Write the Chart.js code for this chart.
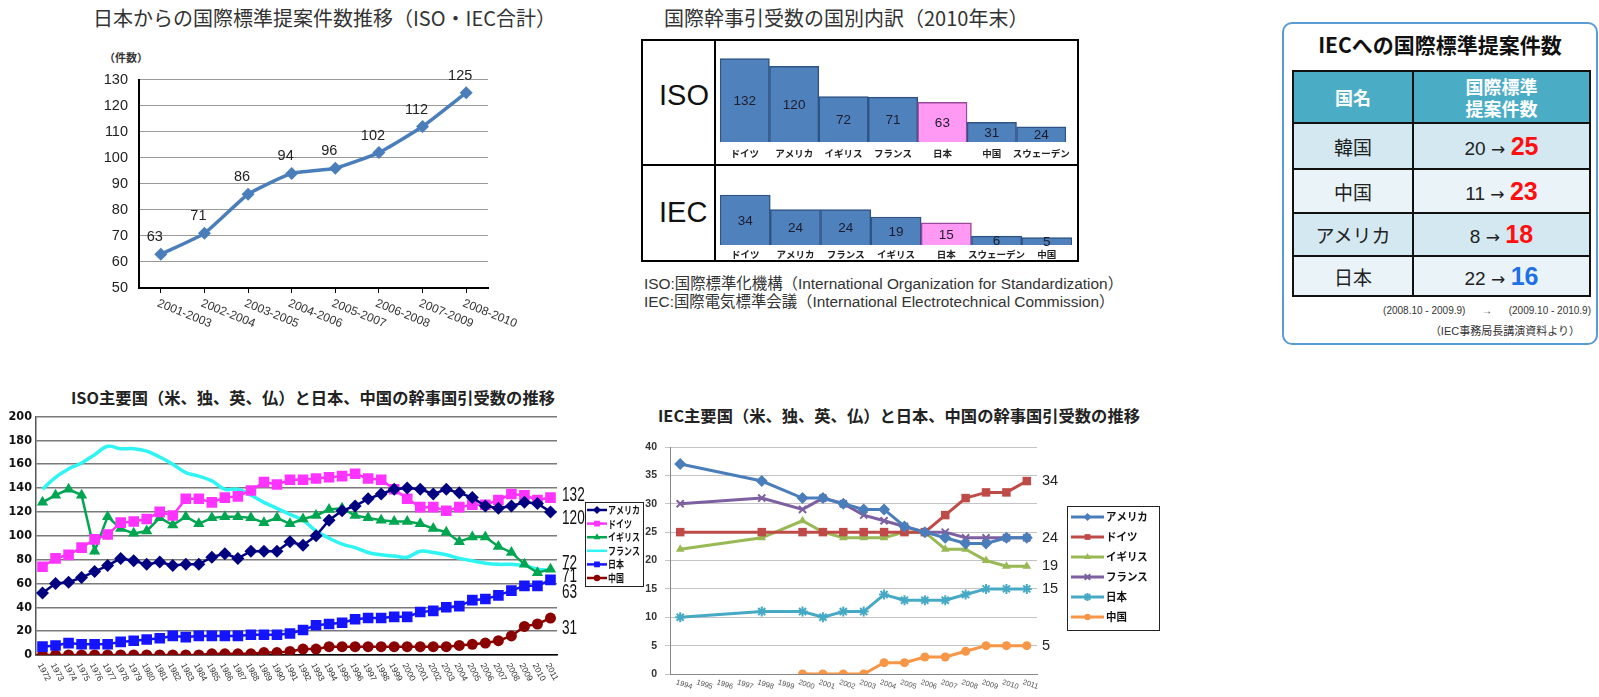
<!DOCTYPE html>
<html>
<head>
<meta charset="utf-8">
<script src="https://cdn.jsdelivr.net/npm/chart.js@4.4.0/dist/chart.umd.min.js"></script>
<style>
  body { margin: 0; background: #fff; width: 1599px; height: 697px; overflow: hidden; position: relative;
         font-family: "Noto Sans CJK JP", "Noto Sans", sans-serif; color: #222; }
  canvas, .abs { position: absolute; }
  .ttl { white-space: nowrap; }
  #breakdownFrame { left: 641px; top: 39px; width: 438px; height: 223px; border: 2px solid #000; box-sizing: border-box; }
  #vLine { left: 714px; top: 39px; width: 2px; height: 223px; background: #000; }
  #hLine { left: 641px; top: 164px; width: 438px; height: 2px; background: #000; }
  .org { font-family: "Liberation Sans", sans-serif; font-size: 29px; color: #111; }
  .cap { font-family: "Liberation Sans", "Noto Sans CJK JP", sans-serif; font-size: 15.4px; color: #333; white-space: nowrap; }
  #tableBox { left: 1282px; top: 22px; width: 316px; height: 323px; border: 2px solid #5b9bd5; border-radius: 10px; box-sizing: border-box; }
  #propTable { left: 1292px; top: 70px; width: 299px; border-collapse: collapse; }
  #propTable td, #propTable th { border: 2px solid #111; text-align: center; padding: 0; }
  #propTable th { background: #4bacc6; color: #fff; font-weight: bold; font-size: 18px; line-height: 22px; }
  #propTable td { font-size: 19px; }
  .foot { font-family: "Liberation Sans", "Noto Sans CJK JP", sans-serif; color: #333; white-space: nowrap; }
</style>
</head>
<body>

<div class="abs ttl" style="left:93px; top:3px; font-size:20px; color:#333;">日本からの国際標準提案件数推移（ISO・IEC合計）</div>
<div class="abs ttl" style="left:104px; top:49px; font-size:11px; font-weight:bold; color:#333;">（件数）</div>
<canvas id="proposalChart" width="440" height="270" style="left:90px; top:60px;"></canvas>

<div class="abs ttl" style="left:664px; top:3px; font-size:20px; color:#333;">国際幹事引受数の国別内訳（2010年末）</div>
<div class="abs" id="breakdownFrame"></div>
<div class="abs" id="vLine"></div>
<div class="abs" id="hLine"></div>
<div class="abs org" style="left:659px; top:79px;">ISO</div>
<div class="abs org" style="left:659px; top:196px;">IEC</div>
<canvas id="isoBar" width="360" height="123" style="left:716px; top:41px;"></canvas>
<canvas id="iecBar" width="360" height="92" style="left:716px; top:167px;"></canvas>
<div class="abs cap" style="left:644px; top:271px;">ISO:国際標準化機構（International Organization for Standardization）</div>
<div class="abs cap" style="left:644px; top:289px;">IEC:国際電気標準会議（International Electrotechnical Commission）</div>

<div class="abs" id="tableBox"></div>
<div class="abs ttl" style="left:1282px; width:316px; top:29px; text-align:center; font-size:21px; font-weight:bold; color:#111;">IECへの国際標準提案件数</div>
<table class="abs" id="propTable"></table>
<div class="abs foot" style="right:8px; top:305px; font-size:10px;">(2008.10 - 2009.9)&nbsp;&nbsp;&nbsp;&nbsp;&nbsp;&nbsp;→&nbsp;&nbsp;&nbsp;&nbsp;&nbsp;&nbsp;(2009.10 - 2010.9)</div>
<div class="abs foot" style="right:19px; top:322px; font-size:11px;">（IEC事務局長講演資料より）</div>

<div class="abs ttl" style="left:71px; top:385px; font-size:16.3px; font-weight:bold; color:#222;">ISO主要国（米、独、英、仏）と日本、中国の幹事国引受数の推移</div>
<canvas id="isoTrend" width="650" height="292" style="left:0px; top:405px;"></canvas>

<div class="abs ttl" style="left:658px; top:403px; font-size:16.3px; font-weight:bold; color:#222;">IEC主要国（米、独、英、仏）と日本、中国の幹事国引受数の推移</div>
<canvas id="iecTrend" width="540" height="272" style="left:620px; top:425px;"></canvas>

<script>
// ---- data ----
const periods = ['2001-2003', '2002-2004', '2003-2005', '2004-2006', '2005-2007', '2006-2008', '2007-2009', '2008-2010'];
const proposals = [63, 71, 86, 94, 96, 102, 112, 125];

const isoCountries = ['ドイツ', 'アメリカ', 'イギリス', 'フランス', '日本', '中国', 'スウェーデン'];
const isoSecretariats = [132, 120, 72, 71, 63, 31, 24];
const iecCountries = ['ドイツ', 'アメリカ', 'フランス', 'イギリス', '日本', 'スウェーデン', '中国'];
const iecSecretariats = [34, 24, 24, 19, 15, 6, 5];

const tableCountries = ['韓国', '中国', 'アメリカ', '日本'];
const proposalsBefore = [20, 11, 8, 22];
const proposalsAfter = [25, 23, 18, 16];

const isoYears = ['1972', '1973', '1974', '1975', '1976', '1977', '1978', '1979', '1980', '1981',
                  '1982', '1983', '1984', '1985', '1986', '1987', '1988', '1989', '1990', '1991',
                  '1992', '1993', '1994', '1995', '1996', '1997', '1998', '1999', '2000', '2001',
                  '2002', '2003', '2004', '2005', '2006', '2007', '2008', '2009', '2010', '2011'];
const isoUS = [52, 60, 61, 65, 70, 75, 81, 79, 76, 78, 75, 76, 76, 82, 85, 81, 87, 87, 87, 95,
               92, 100, 113, 121, 125, 131, 135, 139, 140, 139, 135, 139, 136, 132, 125, 123, 125, 128, 127, 120];
const isoDE = [74, 81, 84, 90, 97, 101, 111, 112, 114, 120, 117, 131, 131, 128, 132, 133, 138, 145, 143, 147,
               147, 148, 149, 150, 152, 148, 147, 139, 131, 124, 124, 121, 124, 126, 126, 130, 135, 134, 130, 132];
const isoUK = [128, 134, 139, 134, 87, 116, 106, 102, 104, 115, 109, 116, 110, 115, 116, 116, 115, 111, 115, 110,
               114, 117, 122, 123, 117, 115, 113, 112, 112, 110, 106, 103, 95, 99, 99, 91, 86, 76, 69, 72];
const isoFR = [139, 149, 156, 161, 168, 175, 173, 173, 171, 166, 160, 153, 150, 146, 139, 139, 134, 128, 123, 118,
               113, 104, 98, 93, 90, 86, 84, 83, 82, 87, 86, 84, 81, 79, 77, 76, 76, 75, 72, 71];
const isoJP = [7, 8, 10, 9, 9, 9, 11, 12, 13, 14, 16, 15, 16, 16, 16, 16, 17, 17, 17, 18,
               21, 25, 26, 27, 30, 31, 31, 32, 32, 36, 37, 40, 41, 46, 47, 50, 54, 58, 58, 63];
const isoCN = [0, 0, 0, 0, 0, 0, 0, 0, 0, 0, 0, 0, 0, 1, 1, 1, 1, 2, 2, 3,
               5, 5, 7, 7, 7, 7, 7, 7, 7, 7, 7, 7, 8, 9, 10, 12, 16, 24, 26, 31];

const iecYears = ['1994', '1995', '1996', '1997', '1998', '1999', '2000', '2001', '2002',
                  '2003', '2004', '2005', '2006', '2007', '2008', '2009', '2010', '2011'];
const iecUS = [37, null, null, null, 34, null, 31, 31, 30, 29, 29, 26, 25, 24, 23, 23, 24, 24];
const iecDE = [25, null, null, null, 25, null, 25, 25, 25, 25, 25, 25, 25, 28, 31, 32, 32, 34];
const iecUK = [22, null, null, null, 24, null, 27, 25, 24, 24, 24, 25, 25, 22, 22, 20, 19, 19];
const iecFR = [30, null, null, null, 31, null, 29, 31, 30, 28, 27, 26, 25, 25, 24, 24, 24, 24];
const iecJP = [10, null, null, null, 11, null, 11, 10, 11, 11, 14, 13, 13, 13, 14, 15, 15, 15];
const iecCN = [null, null, null, null, null, null, 0, 0, 0, 0, 2, 2, 3, 3, 4, 5, 5, 5];

// ---- shared helpers ----
Chart.defaults.animation = false;
Chart.defaults.font.family = "'Liberation Sans', 'Noto Sans CJK JP', sans-serif";
Chart.defaults.plugins.legend.display = false;
Chart.defaults.plugins.tooltip.enabled = false;

function mark(ctx, style, x, y, r, color) {
  ctx.save();
  ctx.fillStyle = color; ctx.strokeStyle = color; ctx.lineWidth = 2;
  ctx.beginPath();
  if (style === 'rectRot') {
    ctx.moveTo(x, y - r); ctx.lineTo(x + r, y); ctx.lineTo(x, y + r); ctx.lineTo(x - r, y); ctx.closePath(); ctx.fill();
  } else if (style === 'rect') {
    const s = r * 0.72; ctx.rect(x - s, y - s, 2 * s, 2 * s); ctx.fill();
  } else if (style === 'triangle') {
    ctx.moveTo(x, y - r); ctx.lineTo(x + r * 0.87, y + r * 0.5); ctx.lineTo(x - r * 0.87, y + r * 0.5); ctx.closePath(); ctx.fill();
  } else if (style === 'circle') {
    ctx.arc(x, y, r * 0.8, 0, Math.PI * 2); ctx.fill();
  } else if (style === 'crossRot' || style === 'star') {
    const d = r * 0.7;
    ctx.moveTo(x - d, y - d); ctx.lineTo(x + d, y + d); ctx.moveTo(x + d, y - d); ctx.lineTo(x - d, y + d);
    if (style === 'star') { ctx.moveTo(x, y - r); ctx.lineTo(x, y + r); }
    ctx.stroke();
  }
  ctx.restore();
}

// x labels slanted downward to the right
function slantTicks(o) {
  return {
    id: 'slantTicks',
    afterDraw(chart) {
      const sc = chart.scales.x, ctx = chart.ctx;
      ctx.save();
      ctx.font = o.font; ctx.fillStyle = o.color;
      ctx.textAlign = 'left'; ctx.textBaseline = 'middle';
      chart.data.labels.forEach((lab, i) => {
        ctx.save();
        ctx.translate(sc.getPixelForValue(i) + o.dx, chart.chartArea.bottom + o.dy);
        ctx.rotate(o.angle * Math.PI / 180);
        ctx.scale(o.sx || 1, 1);
        ctx.fillText(lab, 0, 0);
        ctx.restore();
      });
      ctx.restore();
    }
  };
}

// last value written at the right of the plot
function endLabels(o) {
  return {
    id: 'endLabels',
    afterDraw(chart) {
      const ctx = chart.ctx, ys = chart.scales.y;
      ctx.save();
      ctx.font = o.font; ctx.fillStyle = o.color;
      ctx.textAlign = 'left'; ctx.textBaseline = 'middle';
      o.items.forEach(it => {
        const d = chart.data.datasets[it.ds].data;
        const v = d[d.length - 1];
        ctx.save();
        ctx.translate(chart.chartArea.right + o.dx, ys.getPixelForValue(v) + (it.dy || 0));
        ctx.scale(o.sx || 1, 1);
        ctx.fillText(String(v), 0, 0);
        ctx.restore();
      });
      ctx.restore();
    }
  };
}

// boxed legend at a fixed spot of the canvas
function boxLegend(o) {
  return {
    id: 'boxLegend',
    afterDraw(chart) {
      const ctx = chart.ctx;
      ctx.save();
      ctx.fillStyle = '#fff'; ctx.fillRect(o.x, o.y, o.w, o.h);
      ctx.strokeStyle = '#222'; ctx.lineWidth = 1; ctx.strokeRect(o.x + 0.5, o.y + 0.5, o.w, o.h);
      chart.data.datasets.forEach((ds, i) => {
        const y = o.y + o.top + i * o.step;
        ctx.strokeStyle = ds.borderColor; ctx.lineWidth = o.lw;
        ctx.beginPath(); ctx.moveTo(o.x + o.l0, y); ctx.lineTo(o.x + o.l1, y); ctx.stroke();
        if (ds.pointRadius) mark(ctx, ds.pointStyle, o.x + (o.l0 + o.l1) / 2, y, o.r, ds.borderColor);
        ctx.fillStyle = '#111'; ctx.font = o.font; ctx.textAlign = 'left'; ctx.textBaseline = 'middle';
        ctx.save(); ctx.translate(o.x + o.tx, y); ctx.scale(o.sx || 1, 1); ctx.fillText(ds.label, 0, 0); ctx.restore();
      });
      ctx.restore();
    }
  };
}

// ---- proposals line ----
const pointLabels = {
  id: 'pointLabels',
  afterDatasetsDraw(chart) {
    const ctx = chart.ctx, meta = chart.getDatasetMeta(0);
    ctx.save();
    ctx.font = '14.5px "Liberation Sans"'; ctx.fillStyle = '#222';
    ctx.textAlign = 'center'; ctx.textBaseline = 'middle';
    meta.data.forEach((p, i) => ctx.fillText(String(proposals[i]), p.x - 6, p.y - 17));
    ctx.restore();
  }
};

new Chart(document.getElementById('proposalChart'), {
  type: 'line',
  data: {
    labels: periods,
    datasets: [{
      data: proposals, borderColor: '#4a7ebb', backgroundColor: '#4a7ebb', borderWidth: 3.5,
      pointStyle: 'rectRot', pointRadius: 6.5, pointBorderWidth: 0, tension: 0.15
    }]
  },
  options: {
    responsive: false,
    layout: { padding: { top: 12, right: 42, left: 0, bottom: 0 } },
    scales: {
      x: {
        offset: true,
        ticks: { display: false },
        grid: { display: true, drawOnChartArea: false, drawTicks: true, tickLength: 5, color: '#000' },
        border: { color: '#000', width: 2 },
        afterFit: s => { s.height = 42; }
      },
      y: {
        min: 50, max: 130,
        ticks: { stepSize: 10, padding: 11, color: '#222', font: { size: 14.5 } },
        grid: { color: '#9a9a9a', lineWidth: 1, drawTicks: false },
        border: { color: '#000', width: 2 },
        afterFit: s => { s.width = 49; }
      }
    }
  },
  plugins: [pointLabels, slantTicks({ font: '12px "Liberation Sans"', color: '#333', dx: -3, dy: 15, angle: 22 })]
});

// ---- breakdown bars ----
const barLabels = {
  id: 'barLabels',
  afterDatasetsDraw(chart) {
    const ctx = chart.ctx, meta = chart.getDatasetMeta(0), vals = chart.data.datasets[0].data;
    ctx.save();
    ctx.font = '13.5px "Liberation Sans"'; ctx.fillStyle = '#1c1c2c';
    ctx.textAlign = 'center'; ctx.textBaseline = 'middle';
    meta.data.forEach((b, i) => ctx.fillText(String(vals[i]), b.x, (b.y + b.base) / 2 + 1));
    ctx.restore();
  }
};

function breakdown(id, cats, vals, max, axisH, pad) {
  new Chart(document.getElementById(id), {
    type: 'bar',
    data: {
      labels: cats,
      datasets: [{
        data: vals,
        backgroundColor: cats.map(c => c === '日本' ? '#ff99f3' : '#4f81bd'),
        borderColor: cats.map(c => c === '日本' ? '#9a4a9a' : '#2f5383'),
        borderWidth: 1.5, barPercentage: 1, categoryPercentage: 1
      }]
    },
    options: {
      responsive: false,
      layout: { padding: { left: 4, right: 4, top: 0, bottom: 0 } },
      scales: {
        x: {
          ticks: { autoSkip: false, maxRotation: 0, padding: pad, color: '#222', font: { size: 9.5, weight: 'bold', family: "'Noto Sans CJK JP'" } },
          grid: { display: false, drawTicks: false },
          border: { display: false },
          afterFit: s => { s.height = axisH; }
        },
        y: { display: false, min: 0, max: max }
      }
    },
    plugins: [barLabels]
  });
}
breakdown('isoBar', isoCountries, isoSecretariats, 160, 22, 6);
breakdown('iecBar', iecCountries, iecSecretariats, 53, 14, 4);

// ---- IEC proposal table ----
const tbl = document.getElementById('propTable');
let html = '<tr style="height:52px"><th style="width:118px">国名</th><th>国際標準<br>提案件数</th></tr>';
const rowH = [46, 44, 43, 40];
tableCountries.forEach((c, i) => {
  const bg = i % 2 === 0 ? '#d3e8f0' : '#eaf4f8';
  const col = proposalsAfter[i] > proposalsBefore[i] ? '#ff1010' : '#1f6fe6';
  html += '<tr style="height:' + rowH[i] + 'px;background:' + bg + '"><td>' + c + '</td>' +
    '<td><span style="font-family:\'Liberation Sans\';font-size:19px">' + proposalsBefore[i] + ' </span>' +
    '<span style="font-family:\'DejaVu Sans\';font-size:17px">→ </span>' +
    '<span style="font-family:\'Liberation Sans\';font-weight:bold;font-size:25px;color:' + col + '">' + proposalsAfter[i] + '</span></td></tr>';
});
tbl.innerHTML = html;

// ---- ISO trend ----
new Chart(document.getElementById('isoTrend'), {
  type: 'line',
  data: {
    labels: isoYears,
    datasets: [
      { label: 'アメリカ', data: isoUS, borderColor: '#000080', backgroundColor: '#000080', borderWidth: 2.5, pointStyle: 'rectRot', pointRadius: 6.5, pointBorderWidth: 0 },
      { label: 'ドイツ', data: isoDE, borderColor: '#ff33ff', backgroundColor: '#ff33ff', borderWidth: 2.5, pointStyle: 'rect', pointRadius: 7.5, pointBorderWidth: 0 },
      { label: 'イギリス', data: isoUK, borderColor: '#00a650', backgroundColor: '#00a650', borderWidth: 2.5, pointStyle: 'triangle', pointRadius: 6.5, pointBorderWidth: 0 },
      { label: 'フランス', data: isoFR, borderColor: '#2ef4f4', backgroundColor: '#2ef4f4', borderWidth: 3.5, pointRadius: 0, tension: 0.4 },
      { label: '日本', data: isoJP, borderColor: '#1414ff', backgroundColor: '#1414ff', borderWidth: 2.5, pointStyle: 'rect', pointRadius: 7.5, pointBorderWidth: 0 },
      { label: '中国', data: isoCN, borderColor: '#8b0000', backgroundColor: '#8b0000', borderWidth: 2.5, pointStyle: 'circle', pointRadius: 5.5, pointBorderWidth: 0 }
    ]
  },
  options: {
    responsive: false,
    layout: { padding: { top: 8, right: 93, left: 0, bottom: 0 } },
    scales: {
      x: {
        offset: true,
        ticks: { display: false },
        grid: { display: false, drawTicks: false },
        border: { color: '#000', width: 1.5 },
        afterFit: s => { s.height = 42; }
      },
      y: {
        min: 0, max: 200,
        ticks: { stepSize: 20, padding: 4, color: '#111', font: { size: 12.5, weight: 'bold', family: "'Liberation Sans Narrow', 'DejaVu Sans Condensed', 'Liberation Sans'" } },
        grid: { color: '#7a7a7a', lineWidth: 1.5, drawTicks: false },
        border: { color: '#555', width: 1.5 },
        afterFit: s => { s.width = 36; }
      }
    }
  },
  plugins: [
    slantTicks({ font: '8.5px "Liberation Sans"', color: '#333', dx: -3, dy: 9, angle: 62 }),
    endLabels({ font: '20px "Liberation Sans"', color: '#111', dx: 5, sx: 0.68,
      items: [{ ds: 1, dy: -2 }, { ds: 0, dy: 7 }, { ds: 2, dy: -6 }, { ds: 3, dy: 6 }, { ds: 4, dy: 13 }, { ds: 5, dy: 10 }] }),
    boxLegend({ x: 585, y: 97, w: 58, h: 84, top: 8, step: 13.6, l0: 2, l1: 22, r: 4, lw: 2.5, tx: 23,
      font: 'bold 10.5px "Noto Sans CJK JP"', sx: 0.76 })
  ]
});

// ---- IEC trend ----
new Chart(document.getElementById('iecTrend'), {
  type: 'line',
  data: {
    labels: iecYears,
    datasets: [
      { label: 'アメリカ', data: iecUS, borderColor: '#4a7ebb', backgroundColor: '#4a7ebb', pointStyle: 'rectRot', pointRadius: 6 },
      { label: 'ドイツ', data: iecDE, borderColor: '#be4b48', backgroundColor: '#be4b48', pointStyle: 'rect', pointRadius: 6 },
      { label: 'イギリス', data: iecUK, borderColor: '#98b954', backgroundColor: '#98b954', pointStyle: 'triangle', pointRadius: 5 },
      { label: 'フランス', data: iecFR, borderColor: '#7d60a0', backgroundColor: '#7d60a0', pointStyle: 'crossRot', pointRadius: 5, pointBorderWidth: 2 },
      { label: '日本', data: iecJP, borderColor: '#46aac5', backgroundColor: '#46aac5', pointStyle: 'star', pointRadius: 5, pointBorderWidth: 2 },
      { label: '中国', data: iecCN, borderColor: '#f79646', backgroundColor: '#f79646', pointStyle: 'circle', pointRadius: 4.5 }
    ]
  },
  options: {
    responsive: false,
    spanGaps: true,
    datasets: { line: { borderWidth: 3, pointBorderWidth: 0 } },
    layout: { padding: { top: 22, right: 123, left: 0, bottom: 0 } },
    scales: {
      x: {
        offset: true,
        ticks: { display: false },
        grid: { display: false, drawTicks: false },
        border: { color: '#888', width: 1 },
        afterFit: s => { s.height = 23; }
      },
      y: {
        min: 0, max: 40,
        ticks: { stepSize: 5, padding: 8, color: '#333', font: { size: 10.5, weight: 'bold' } },
        grid: { color: '#c4c4c4', lineWidth: 1, drawTicks: true, tickLength: 5 },
        border: { color: '#888', width: 1 },
        afterFit: s => { s.width = 50; }
      }
    }
  },
  plugins: [
    slantTicks({ font: '7.5px "Liberation Sans"', color: '#555', dx: -4, dy: 8, angle: 18 }),
    endLabels({ font: '14.5px "Liberation Sans"', color: '#222', dx: 5,
      items: [{ ds: 1 }, { ds: 0 }, { ds: 2 }, { ds: 4 }, { ds: 5 }] }),
    boxLegend({ x: 447, y: 81, w: 92, h: 124, top: 11, step: 20, l0: 4, l1: 37, r: 4, lw: 3, tx: 39,
      font: 'bold 11px "Noto Sans CJK JP"', sx: 0.95 })
  ]
});
</script>
</body>
</html>
